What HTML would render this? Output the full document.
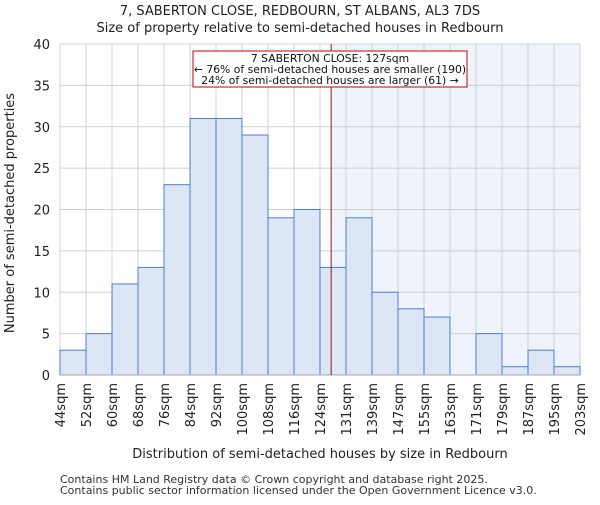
<!DOCTYPE html>
<html><head><meta charset="utf-8"><style>body{margin:0;background:#fff}svg{font-family:"DejaVu Sans","Liberation Sans",sans-serif}</style></head>
<body>
<svg id="c" width="600" height="500" xmlns="http://www.w3.org/2000/svg"></svg>
<script>
const edges=[44,52,60,68,76,84,92,100,108,116,124,131,139,147,155,163,171,179,187,195,203];
const counts=[3,5,11,13,23,31,31,29,19,20,13,19,10,8,7,0,5,1,3,1];
const yTicks=[0,5,10,15,20,25,30,35,40];
const marker=127;
const L=60,R=580,T=44,B=375,yMax=40;
const NS="http://www.w3.org/2000/svg",svg=document.getElementById('c');
const xi=i=>L+(R-L)*i/counts.length;
const xv=v=>{for(let i=0;i<edges.length-1;i++){if(v<=edges[i+1])return xi(i)+(xi(i+1)-xi(i))*(v-edges[i])/(edges[i+1]-edges[i]);}return R;};
const y=v=>B-(B-T)*v/yMax;
function mk(t,a,txt){const e=document.createElementNS(NS,t);for(const k in a)e.setAttribute(k,a[k]);if(txt!==undefined)e.textContent=txt;svg.appendChild(e);return e;}
let e;
e=mk('rect',{x:xv(marker),y:T,width:R-xv(marker),height:B-T,fill:'#eef3fc'});


yTicks.forEach(t=>{e=mk('line',{x1:L,x2:R,y1:y(t),y2:y(t),stroke:'#d0d0d0','stroke-width':1});


e=mk('text',{x:L-10,y:y(t)+5,'text-anchor':'end','font-size':13,fill:'#222'},t);

});
edges.forEach((v,i)=>{e=mk('line',{x1:xi(i),x2:xi(i),y1:T,y2:B,stroke:'#d0d0d0','stroke-width':1});


e=mk('text',{x:0,y:0,transform:`translate(${xi(i)+5},${B+8}) rotate(-90)`,'text-anchor':'end','font-size':13,fill:'#222'},v+'sqm');

});
counts.forEach((c,i)=>{if(c<=0)return;e=mk('rect',{x:xi(i),y:y(c),width:xi(i+1)-xi(i),height:B-y(c),fill:'#dce6f5',stroke:'#4a7fd0','stroke-width':1});

});
e=mk('line',{x1:L,x2:R,y1:B,y2:B,stroke:'#aaa'});


e=mk('line',{x1:xv(marker),x2:xv(marker),y1:T,y2:B,stroke:'#8b1a1a','stroke-width':1});


e=mk('rect',{x:193,y:51,width:274,height:36,fill:'#fff',stroke:'#c00','stroke-width':1});


[['7 SABERTON CLOSE: 127sqm',62],['← 76% of semi-detached houses are smaller (190)',73],['24% of semi-detached houses are larger (61) →',84]].forEach(a=>{e=mk('text',{x:330,y:a[1],'text-anchor':'middle','font-size':10.8,fill:'#111'},a[0]);

});
e=mk('text',{x:300,y:15,'text-anchor':'middle','font-size':13,fill:'#222'},'7, SABERTON CLOSE, REDBOURN, ST ALBANS, AL3 7DS');


e=mk('text',{x:300,y:32,'text-anchor':'middle','font-size':13,fill:'#222'},'Size of property relative to semi-detached houses in Redbourn');


e=mk('text',{x:0,y:0,transform:'translate(14,213) rotate(-90)','text-anchor':'middle','font-size':13,fill:'#222'},'Number of semi-detached properties');


e=mk('text',{x:320,y:458,'text-anchor':'middle','font-size':13,fill:'#222'},'Distribution of semi-detached houses by size in Redbourn');


e=mk('text',{x:60,y:483,'font-size':11,fill:'#333'},'Contains HM Land Registry data © Crown copyright and database right 2025.');


e=mk('text',{x:60,y:494,'font-size':11,fill:'#333'},'Contains public sector information licensed under the Open Government Licence v3.0.');


</script>
</body></html>
